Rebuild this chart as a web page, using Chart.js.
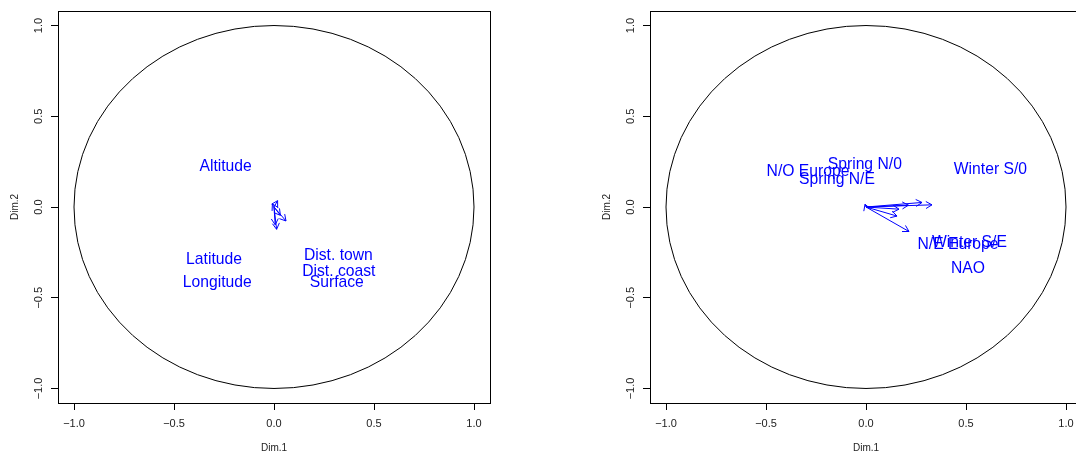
<!DOCTYPE html>
<html><head><meta charset="utf-8">
<script src="https://cdn.jsdelivr.net/npm/chart.js@4.4.1/dist/chart.umd.min.js"></script>
<style>
html,body{margin:0;padding:0;background:#fff;overflow:hidden;width:1076px;height:456px;position:relative;}
canvas.panel{position:absolute;top:0;width:540px;height:456px;}
#c1{left:0px} #c2{left:592px}
</style></head><body>
<canvas id="c1" class="panel" width="540" height="456"></canvas>
<canvas id="c2" class="panel" width="540" height="456"></canvas>
<script>
// ---- data ----
const tickValues = [-1, -0.5, 0, 0.5, 1];
const tickLabels = ["\u22121.0", "\u22120.5", "0.0", "0.5", "1.0"];
const axisMin = -1.08, axisMax = 1.08;
const xTitle = "Dim.1", yTitle = "Dim.2";

// left panel
const leftVars   = ["Altitude", "Latitude", "Longitude", "Dist. town", "Dist. coast", "Surface"];
const leftLabelX = [-0.242, -0.300, -0.284, 0.322, 0.324, 0.314];
const leftLabelY = [0.222, -0.288, -0.417, -0.268, -0.358, -0.417];
const leftArrowX = [0.018, -0.008, 0.013, 0.060, 0.032, 0.006];
const leftArrowY = [0.035, 0.017, -0.123, -0.077, -0.046, -0.098];

// right panel
const rightVars   = ["N/O Europe", "Spring N/0", "Spring N/E", "Winter S/0", "Winter S/E", "N/E Europe", "NAO"];
const rightLabelX = [-0.290, -0.006, -0.145, 0.622, 0.517, 0.460, 0.510];
const rightLabelY = [0.194, 0.231, 0.152, 0.203, -0.196, -0.209, -0.342];
const rightArrowX = [-0.005, 0.330, 0.280, 0.212, 0.165, 0.155, 0.215];
const rightArrowY = [0.015, 0.012, 0.025, 0.010, -0.012, -0.050, -0.135];

// ---- rendering ----
const FONT = "'Liberation Sans', Arial, Helvetica, sans-serif";
const BLUE = "#0000ff";

const framePlugin = {
  id: 'frame',
  beforeDatasetsDraw(chart) {
    const {ctx, chartArea: a, scales: {x, y}} = chart;
    ctx.save();
    const cx = x.getPixelForValue(0), cy = y.getPixelForValue(0);
    const rx = Math.abs(x.getPixelForValue(1) - cx), ry = Math.abs(y.getPixelForValue(1) - cy);
    ctx.strokeStyle = '#000';
    ctx.lineWidth = 1;
    ctx.beginPath();
    ctx.ellipse(cx, cy, rx, ry, 0, 0, Math.PI * 2);
    ctx.stroke();
    ctx.strokeRect(Math.round(a.left) + 0.5, Math.round(a.top) + 0.5,
                   Math.round(a.right - a.left), Math.round(a.bottom - a.top));
    ctx.restore();
  }
};

const arrowPlugin = {
  id: 'arrows',
  afterDatasetsDraw(chart) {
    const ctx = chart.ctx;
    ctx.save();
    chart.data.datasets.forEach((ds, i) => {
      const meta = chart.getDatasetMeta(i);
      if (ds.arrow) {
        const p0 = meta.data[0], p1 = meta.data[1];
        const ang = Math.atan2(p1.y - p0.y, p1.x - p0.x);
        const L = 7, A = Math.PI / 6;
        ctx.strokeStyle = ds.borderColor;
        ctx.lineWidth = 1;
        ctx.beginPath();
        ctx.moveTo(p1.x - L * Math.cos(ang - A), p1.y - L * Math.sin(ang - A));
        ctx.lineTo(p1.x, p1.y);
        ctx.lineTo(p1.x - L * Math.cos(ang + A), p1.y - L * Math.sin(ang + A));
        ctx.stroke();
      }
      if (ds.textLabels) {
        ctx.fillStyle = BLUE;
        ctx.font = "15.7px " + FONT;
        ctx.textAlign = 'center';
        ctx.textBaseline = 'middle';
        meta.data.forEach((pt, j) => ctx.fillText(ds.textLabels[j], pt.x, pt.y));
      }
    });
    ctx.restore();
  }
};

function makeChart(id, vars, lx, ly, ax, ay) {
  const datasets = ax.map((v, i) => ({
    data: [{x: 0, y: 0}, {x: v, y: ay[i]}],
    showLine: true, borderColor: BLUE, borderWidth: 1, pointRadius: 0, arrow: true
  }));
  datasets.push({
    data: lx.map((v, i) => ({x: v, y: ly[i]})),
    showLine: false, pointRadius: 0, textLabels: vars
  });
  const common = (isY) => ({
    type: 'linear', min: axisMin, max: axisMax,
    afterBuildTicks: s => { s.ticks = tickValues.map(v => ({value: v})); },
    ticks: {
      callback: v => tickLabels[tickValues.indexOf(v)],
      color: '#222', font: {family: FONT, size: 11},
      autoSkip: false,
      padding: isY ? 1 : 7,
      minRotation: isY ? 90 : 0, maxRotation: isY ? 90 : 0,
      crossAlign: isY ? 'center' : 'near'
    },
    grid: {drawOnChartArea: false, drawTicks: true, tickLength: 7, color: '#000', lineWidth: 1},
    border: {display: true, color: '#000', width: 1},
    title: {
      display: true, text: isY ? yTitle : xTitle, color: '#222',
      font: {family: FONT, size: 10},
      padding: isY ? {top: 9.5, bottom: 0} : {top: 0, bottom: 1.5}
    },
    afterFit: s => { if (isY) s.width = 58; else s.height = 53; }
  });
  return new Chart(document.getElementById(id), {
    type: 'scatter',
    data: {datasets},
    options: {
      responsive: false, animation: false, devicePixelRatio: 1,
      layout: {padding: {left: 0, right: 50, top: 11, bottom: 0}},
      plugins: {legend: {display: false}, tooltip: {enabled: false}},
      scales: {x: common(false), y: common(true)}
    },
    plugins: [framePlugin, arrowPlugin]
  });
}

makeChart('c1', leftVars, leftLabelX, leftLabelY, leftArrowX, leftArrowY);
makeChart('c2', rightVars, rightLabelX, rightLabelY, rightArrowX, rightArrowY);
</script>
</body></html>
